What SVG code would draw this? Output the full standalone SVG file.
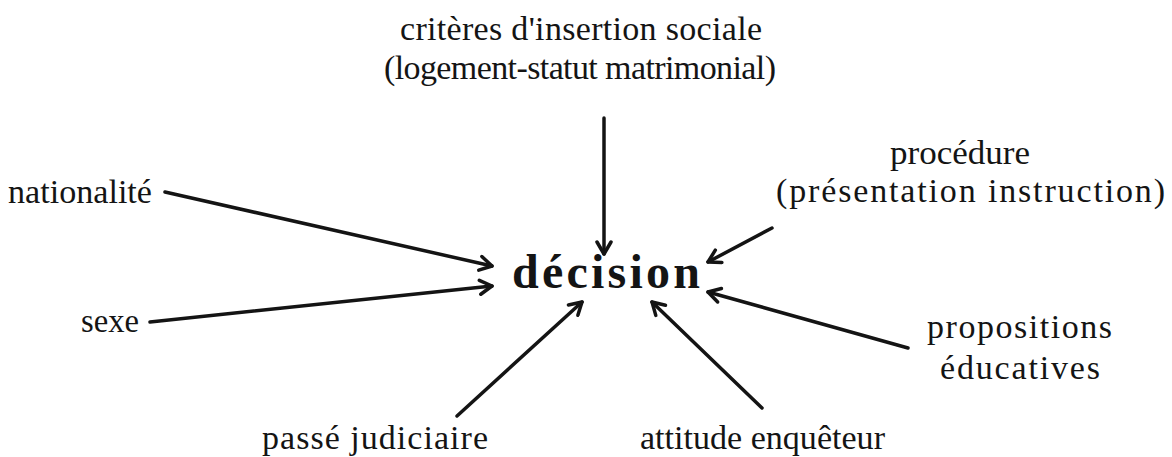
<svg xmlns="http://www.w3.org/2000/svg" width="1172" height="457" viewBox="0 0 1172 457">
<style>
.t{font-family:"Liberation Serif","Times New Roman",serif;font-size:34px;fill:#141414;}
.b{font-family:"Liberation Serif","Times New Roman",serif;font-size:48px;font-weight:bold;fill:#141414;}
.c{fill:none;stroke:#141414;stroke-width:3.5;stroke-linecap:round;}
</style>
<defs>
<marker id="ah" viewBox="0 0 18 18" refX="15" refY="9" markerWidth="18" markerHeight="18" markerUnits="userSpaceOnUse" orient="auto">
<path d="M3,2 L15,9 L3,16" fill="none" stroke="#141414" stroke-width="3.5" stroke-linecap="round" stroke-linejoin="round"/>
</marker>
</defs>
<rect width="1172" height="457" fill="#ffffff"/>
<g id="connectors">
<line class="c" x1="604" y1="118" x2="604" y2="254" marker-end="url(#ah)"/>
<line class="c" x1="165" y1="192" x2="492" y2="266" marker-end="url(#ah)"/>
<line class="c" x1="150" y1="322" x2="492" y2="286" marker-end="url(#ah)"/>
<line class="c" x1="772" y1="228" x2="708" y2="262" marker-end="url(#ah)"/>
<line class="c" x1="908" y1="348" x2="708" y2="292" marker-end="url(#ah)"/>
<line class="c" x1="457" y1="416" x2="582" y2="302" marker-end="url(#ah)"/>
<line class="c" x1="762" y1="408" x2="652" y2="302" marker-end="url(#ah)"/>
</g>
<g id="decision"><text class="b" x="512" y="288" textLength="188" lengthAdjust="spacing">décision</text></g>
<g id="criteres">
<text class="t" x="400" y="40" textLength="362" lengthAdjust="spacing">critères d'insertion sociale</text>
<text class="t" x="384" y="79" textLength="392" lengthAdjust="spacing">(logement-statut matrimonial)</text>
</g>
<g id="nationalite"><text class="t" x="8" y="203" textLength="144" lengthAdjust="spacingAndGlyphs">nationalité</text></g>
<g id="sexe"><text class="t" x="81" y="332" textLength="58" lengthAdjust="spacingAndGlyphs">sexe</text></g>
<g id="procedure">
<text class="t" x="890" y="164" textLength="140" lengthAdjust="spacingAndGlyphs">procédure</text>
<text class="t" x="776" y="202" textLength="389" lengthAdjust="spacing">(présentation instruction)</text>
</g>
<g id="propositions">
<text class="t" x="927" y="338" textLength="185" lengthAdjust="spacing">propositions</text>
<text class="t" x="940" y="379" textLength="160" lengthAdjust="spacing">éducatives</text>
</g>
<g id="passe"><text class="t" x="262" y="449" textLength="226" lengthAdjust="spacing">passé judiciaire</text></g>
<g id="attitude"><text class="t" x="640" y="449" textLength="245" lengthAdjust="spacingAndGlyphs">attitude enquêteur</text></g>
</svg>
